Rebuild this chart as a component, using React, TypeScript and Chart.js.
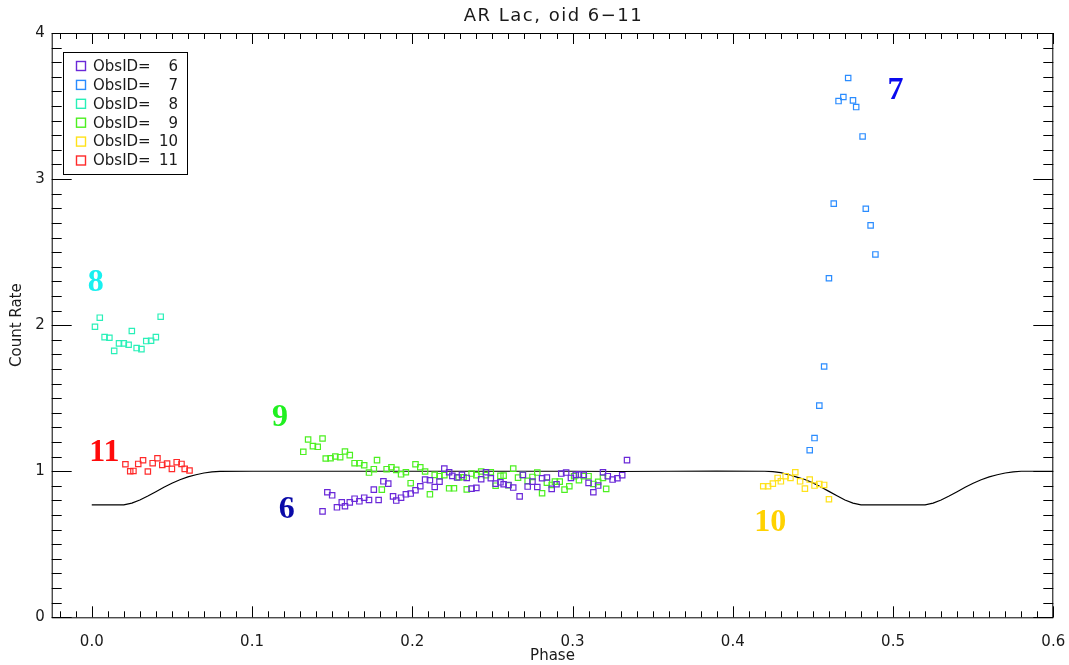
import React, { useEffect, useRef } from "react";
import { Chart, registerables } from "chart.js";

Chart.register(...registerables);

// ---------- text ----------
const TITLE = "AR Lac, oid 6\u221211";
const X_TITLE = "Phase";
const Y_TITLE = "Count Rate";

// ---------- axes ----------
const X_MIN = -0.025;
const X_MAX = 0.6;
const Y_MIN = 0;
const Y_MAX = 4;
const X_TICKS = [0, 0.1, 0.2, 0.3, 0.4, 0.5, 0.6];
const Y_TICKS = [0, 1, 2, 3, 4];

// ---------- series ----------
const OBS_IDS = [6, 7, 8, 9, 10, 11];
const OBS_COLORS = ["#6a28d8", "#2a8cff", "#28f0b8", "#4cf020", "#ffe21a", "#ff2a2a"];

const OBS6_PHASE = [0.144, 0.147, 0.150, 0.153, 0.156, 0.158, 0.161, 0.164, 0.167, 0.170, 0.173, 0.176, 0.179, 0.182, 0.185, 0.188, 0.190, 0.193, 0.196, 0.199, 0.202, 0.205, 0.208, 0.211, 0.214, 0.217, 0.220, 0.223, 0.225, 0.228, 0.231, 0.234, 0.237, 0.240, 0.243, 0.246, 0.249, 0.252, 0.255, 0.257, 0.260, 0.263, 0.267, 0.269, 0.272, 0.275, 0.278, 0.281, 0.284, 0.287, 0.290, 0.293, 0.296, 0.299, 0.302, 0.304, 0.307, 0.310, 0.313, 0.316, 0.319, 0.322, 0.325, 0.328, 0.331, 0.334];
const OBS6_RATE = [0.725, 0.856, 0.835, 0.753, 0.787, 0.760, 0.787, 0.812, 0.794, 0.819, 0.803, 0.874, 0.803, 0.931, 0.915, 0.828, 0.799, 0.819, 0.842, 0.847, 0.870, 0.897, 0.943, 0.938, 0.892, 0.929, 1.018, 0.993, 0.968, 0.957, 0.975, 0.954, 0.881, 0.886, 0.945, 0.993, 0.952, 0.915, 0.924, 0.911, 0.906, 0.888, 0.828, 0.975, 0.895, 0.929, 0.892, 0.952, 0.957, 0.879, 0.911, 0.984, 0.991, 0.954, 0.975, 0.977, 0.975, 0.920, 0.856, 0.902, 0.993, 0.966, 0.943, 0.952, 0.973, 1.076];

const OBS7_PHASE = [0.448, 0.451, 0.454, 0.457, 0.460, 0.463, 0.466, 0.469, 0.472, 0.475, 0.477, 0.481, 0.483, 0.486, 0.489];
const OBS7_RATE = [1.144, 1.227, 1.449, 1.717, 2.321, 2.832, 3.534, 3.562, 3.692, 3.539, 3.493, 3.292, 2.797, 2.683, 2.484];

const OBS8_PHASE = [0.002, 0.005, 0.008, 0.011, 0.014, 0.017, 0.020, 0.023, 0.025, 0.028, 0.031, 0.034, 0.037, 0.040, 0.043];
const OBS8_RATE = [1.989, 2.051, 1.918, 1.914, 1.824, 1.875, 1.875, 1.866, 1.960, 1.843, 1.836, 1.891, 1.893, 1.918, 2.058];

const OBS9_PHASE = [0.132, 0.135, 0.138, 0.141, 0.144, 0.146, 0.149, 0.152, 0.155, 0.158, 0.161, 0.164, 0.167, 0.170, 0.173, 0.176, 0.178, 0.181, 0.184, 0.187, 0.190, 0.193, 0.196, 0.199, 0.202, 0.205, 0.208, 0.211, 0.214, 0.217, 0.220, 0.223, 0.226, 0.229, 0.232, 0.234, 0.237, 0.240, 0.243, 0.246, 0.249, 0.252, 0.255, 0.257, 0.260, 0.263, 0.266, 0.269, 0.272, 0.275, 0.278, 0.281, 0.284, 0.287, 0.289, 0.292, 0.295, 0.298, 0.301, 0.304, 0.307, 0.310, 0.313, 0.316, 0.319, 0.321];
const OBS9_RATE = [1.133, 1.217, 1.172, 1.167, 1.224, 1.087, 1.089, 1.101, 1.096, 1.135, 1.110, 1.055, 1.055, 1.041, 0.991, 1.014, 1.076, 0.874, 1.014, 1.027, 1.009, 0.979, 0.993, 0.918, 1.048, 1.027, 0.998, 0.842, 0.975, 0.966, 0.973, 0.883, 0.883, 0.959, 0.959, 0.876, 0.984, 0.973, 0.998, 0.973, 0.993, 0.901, 0.968, 0.970, 0.904, 1.018, 0.956, 0.975, 0.934, 0.961, 0.991, 0.849, 0.922, 0.906, 0.929, 0.929, 0.874, 0.897, 0.966, 0.938, 0.966, 0.966, 0.913, 0.927, 0.954, 0.879];

const OBS10_PHASE = [0.419, 0.422, 0.425, 0.428, 0.430, 0.433, 0.436, 0.439, 0.442, 0.445, 0.448, 0.451, 0.454, 0.457, 0.460];
const OBS10_RATE = [0.897, 0.897, 0.915, 0.954, 0.931, 0.966, 0.954, 0.993, 0.931, 0.881, 0.943, 0.902, 0.913, 0.906, 0.808];

const OBS11_PHASE = [0.021, 0.024, 0.026, 0.029, 0.032, 0.035, 0.038, 0.041, 0.044, 0.047, 0.050, 0.053, 0.056, 0.058, 0.061];
const OBS11_RATE = [1.048, 1.000, 1.002, 1.050, 1.075, 0.998, 1.055, 1.089, 1.043, 1.052, 1.016, 1.062, 1.050, 1.016, 1.005];

// model light curve (black line)
const MODEL_PHASE = [0.000, 0.005, 0.010, 0.015, 0.020, 0.025, 0.030, 0.035, 0.040, 0.045, 0.050, 0.055, 0.060, 0.065, 0.070, 0.075, 0.080, 0.100, 0.150, 0.200, 0.250, 0.300, 0.330, 0.360, 0.390, 0.420, 0.425, 0.430, 0.435, 0.440, 0.445, 0.450, 0.455, 0.460, 0.465, 0.470, 0.475, 0.480, 0.500, 0.520, 0.525, 0.530, 0.535, 0.540, 0.545, 0.550, 0.555, 0.560, 0.565, 0.570, 0.575, 0.580, 0.600];
const MODEL_RATE = [0.770, 0.770, 0.770, 0.770, 0.770, 0.782, 0.803, 0.830, 0.860, 0.890, 0.918, 0.942, 0.961, 0.976, 0.988, 0.995, 0.999, 1.000, 1.000, 1.000, 1.000, 1.000, 0.998, 1.000, 1.001, 1.000, 0.997, 0.990, 0.976, 0.960, 0.943, 0.920, 0.892, 0.862, 0.832, 0.803, 0.782, 0.770, 0.770, 0.770, 0.782, 0.803, 0.830, 0.860, 0.890, 0.918, 0.942, 0.961, 0.976, 0.988, 0.995, 1.000, 1.000];

// big ObsID annotations
const NOTE_TEXT = ["8", "11", "9", "6", "7", "10"];
const NOTE_PHASE = [0.0025, 0.0078, 0.1175, 0.1216, 0.5016, 0.4233];
const NOTE_RATE = [2.311, 1.144, 1.386, 0.754, 3.626, 0.663];
const NOTE_COLORS = ["#18f0f0", "#ff0a0a", "#20f020", "#0a0aa8", "#0a0aee", "#ffd200"];

const SERIES_PHASE = [OBS6_PHASE, OBS7_PHASE, OBS8_PHASE, OBS9_PHASE, OBS10_PHASE, OBS11_PHASE];
const SERIES_RATE = [OBS6_RATE, OBS7_RATE, OBS8_RATE, OBS9_RATE, OBS10_RATE, OBS11_RATE];

const FONT = '"DejaVu Sans", sans-serif';
const INK = "#1a1a1a";

function pairs(xs: number[], ys: number[]) {
  const n = Math.min(xs.length, ys.length);
  const out: { x: number; y: number }[] = [];
  for (let i = 0; i < n; i++) out.push({ x: xs[i], y: ys[i] });
  return out;
}

const idlPlugin = {
  id: "idlFrame",
  afterDraw(chart: any) {
    const { ctx, chartArea: ca, scales } = chart;
    const xs = scales.x;
    const ys = scales.y;
    ctx.save();

    // frame
    ctx.strokeStyle = "#000";
    ctx.lineWidth = 1;
    ctx.strokeRect(ca.left + 0.5, ca.top + 0.5, ca.right - ca.left - 1, ca.bottom - ca.top);

    // inward ticks, x (top and bottom)
    ctx.beginPath();
    for (let i = Math.ceil(X_MIN * 100); i <= Math.floor(X_MAX * 100 + 1e-6); i++) {
      const px = Math.round(xs.getPixelForValue(i / 100)) + 0.5;
      const len = i % 10 === 0 ? 11 : 6;
      ctx.moveTo(px, ca.bottom);
      ctx.lineTo(px, ca.bottom - len);
      ctx.moveTo(px, ca.top);
      ctx.lineTo(px, ca.top + len);
    }
    // inward ticks, y (left and right)
    for (let i = Math.ceil(Y_MIN * 10); i <= Math.floor(Y_MAX * 10 + 1e-6); i++) {
      const py = Math.round(ys.getPixelForValue(i / 10)) + 0.5;
      const len = i % 10 === 0 ? 20 : 10;
      ctx.moveTo(ca.left, py);
      ctx.lineTo(ca.left + len, py);
      ctx.moveTo(ca.right, py);
      ctx.lineTo(ca.right - len, py);
    }
    ctx.stroke();

    // title
    ctx.fillStyle = INK;
    ctx.font = `18px ${FONT}`;
    (ctx as any).letterSpacing = "1.5px";
    ctx.textAlign = "center";
    ctx.textBaseline = "middle";
    ctx.fillText(TITLE, (ca.left + ca.right) / 2 + 1, ca.top - 17);
    (ctx as any).letterSpacing = "0px";

    // legend
    const lx = ca.left + 11.3;
    const ly = ca.top + 19;
    ctx.strokeStyle = "#000";
    ctx.lineWidth = 1;
    ctx.strokeRect(Math.round(lx) + 0.5, Math.round(ly) + 0.5, 124, 122);
    ctx.font = `15px ${FONT}`;
    ctx.textBaseline = "middle";
    OBS_IDS.forEach((id, i) => {
      const cy = ly + 14 + 18.9 * i;
      ctx.strokeStyle = OBS_COLORS[i];
      ctx.lineWidth = 1.4;
      ctx.strokeRect(lx + 18 - 4.5, cy - 4.5, 9, 9);
      ctx.fillStyle = INK;
      ctx.textAlign = "left";
      ctx.fillText("ObsID=", lx + 30, cy + 1);
      ctx.textAlign = "right";
      ctx.fillText(String(id), lx + 115, cy + 1);
    });

    // big annotations
    ctx.font = `bold 32px "Liberation Serif", "DejaVu Serif", serif`;
    ctx.textAlign = "center";
    ctx.textBaseline = "alphabetic";
    NOTE_TEXT.forEach((t, i) => {
      const px = xs.getPixelForValue(NOTE_PHASE[i]);
      const py = ys.getPixelForValue(NOTE_RATE[i]);
      ctx.fillStyle = NOTE_COLORS[i];
      ctx.fillText(t, px, py + 11);
    });

    ctx.restore();
  },
};

export default function App() {
  const ref = useRef<HTMLCanvasElement | null>(null);

  useEffect(() => {
    if (!ref.current) return;
    Chart.defaults.font.family = FONT;

    const pointSets = OBS_IDS.map((id, i) => ({
      type: "scatter" as const,
      label: `ObsID= ${id}`,
      data: pairs(SERIES_PHASE[i], SERIES_RATE[i]),
      pointStyle: "rect",
      pointRadius: 3.8,
      pointHoverRadius: 3.8,
      pointBorderWidth: 1.2,
      borderColor: OBS_COLORS[i],
      backgroundColor: "rgba(0,0,0,0)",
      showLine: false,
      order: 1,
    }));

    const model = {
      type: "line" as const,
      label: "model",
      data: pairs(MODEL_PHASE, MODEL_RATE),
      borderColor: "#000",
      borderWidth: 1.2,
      pointRadius: 0,
      tension: 0,
      fill: false,
      order: 2,
    };

    const chart = new Chart(ref.current, {
      type: "scatter",
      data: { datasets: [...pointSets, model] as any },
      options: {
        animation: false,
        responsive: true,
        maintainAspectRatio: false,
        layout: { padding: { top: 33, right: 15.7, left: 0, bottom: 0 } },
        plugins: {
          legend: { display: false },
          tooltip: { enabled: false },
          title: { display: false },
        },
        scales: {
          x: {
            type: "linear",
            min: X_MIN,
            max: X_MAX,
            afterBuildTicks: (s: any) => {
              s.ticks = X_TICKS.map((v) => ({ value: v }));
            },
            afterFit: (s: any) => {
              s.height = 47.7;
              s.paddingLeft = 0;
              s.paddingRight = 0;
            },
            ticks: {
              callback: (v: any) => Number(v).toFixed(1),
              font: { size: 15, family: FONT },
              color: INK,
              padding: 16,
              maxRotation: 0,
              autoSkip: false,
            },
            grid: { display: false, drawTicks: false },
            border: { display: false },
            title: {
              display: true,
              text: X_TITLE,
              font: { size: 15, family: FONT },
              color: INK,
              padding: { top: 0, bottom: 0 },
            },
          },
          y: {
            type: "linear",
            min: Y_MIN,
            max: Y_MAX,
            afterBuildTicks: (s: any) => {
              s.ticks = Y_TICKS.map((v) => ({ value: v }));
            },
            afterFit: (s: any) => {
              s.width = 51.7;
              s.paddingTop = 0;
              s.paddingBottom = 0;
            },
            ticks: {
              callback: (v: any) => String(v),
              font: { size: 15, family: FONT },
              color: INK,
              padding: 7,
              autoSkip: false,
            },
            grid: { display: false, drawTicks: false },
            border: { display: false },
            title: {
              display: true,
              text: Y_TITLE,
              font: { size: 15, family: FONT },
              color: INK,
              padding: { top: 8, bottom: 0 },
            },
          },
        },
      },
      plugins: [idlPlugin],
    });

    return () => chart.destroy();
  }, []);

  return (
    <div style={{ position: "fixed", left: 0, top: 0, width: 1069, height: 665, background: "#fff" }}>
      <canvas ref={ref} />
    </div>
  );
}
